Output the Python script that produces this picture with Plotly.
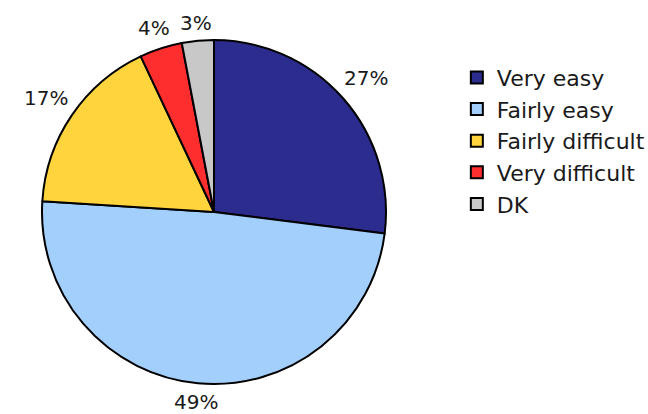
import math
import plotly.graph_objects as go

labels = ["Very easy", "Fairly easy", "Fairly difficult", "Very difficult", "DK"]
values = [27, 49, 17, 4, 3]
colors = ["#2c2c8e", "#a3cffd", "#ffd43c", "#ff2e2e", "#c8c8c8"]

W, H = 648, 414
# pie placement in pixels (centre and radius)
cx, cy, r = 214, 212, 172
dom_x = [(cx - r) / W, (cx + r) / W]
dom_y = [1 - (cy + r) / H, 1 - (cy - r) / H]

font_family = "DejaVu Sans"
label_size = 20
legend_size = 22
text_color = "#1a1a1a"

fig = go.Figure(
    go.Pie(
        labels=labels,
        values=values,
        sort=False,
        direction="clockwise",
        rotation=0,
        marker=dict(colors=colors, line=dict(color="#000000", width=2)),
        textinfo="none",
        domain=dict(x=dom_x, y=dom_y),
        hoverinfo="label+percent",
    )
)

# percentage labels placed just outside each slice's mid-angle
total = sum(values)
cum = 0
char_w = {"%": 0.95}
for v in values:
    mid = (cum + v / 2) / total * 2 * math.pi
    cum += v
    txt = f"{v}%"
    tw = sum(char_w.get(c, 0.636) for c in txt) * label_size
    th = 0.75 * label_size
    s, c = math.sin(mid), math.cos(mid)
    half = abs(s) * tw / 2 + abs(c) * th / 2
    d = r + 9 + half
    px, py = cx + d * s, cy - d * c
    fig.add_annotation(
        x=px / W, y=1 - py / H, xref="paper", yref="paper",
        text=txt, showarrow=False, xanchor="center", yanchor="middle",
        borderpad=0,
        font=dict(family=font_family, size=label_size, color=text_color),
    )

fig.update_layout(
    width=W,
    height=H,
    margin=dict(l=0, r=0, t=0, b=0, autoexpand=False),
    paper_bgcolor="white",
    plot_bgcolor="white",
    font=dict(family=font_family, size=label_size, color=text_color),
    legend=dict(
        x=0.705,
        y=0.863,
        xanchor="left",
        yanchor="top",
        font=dict(family=font_family, size=legend_size, color=text_color),
        itemwidth=30,
    ),
)

fig.write_html("out.html")
